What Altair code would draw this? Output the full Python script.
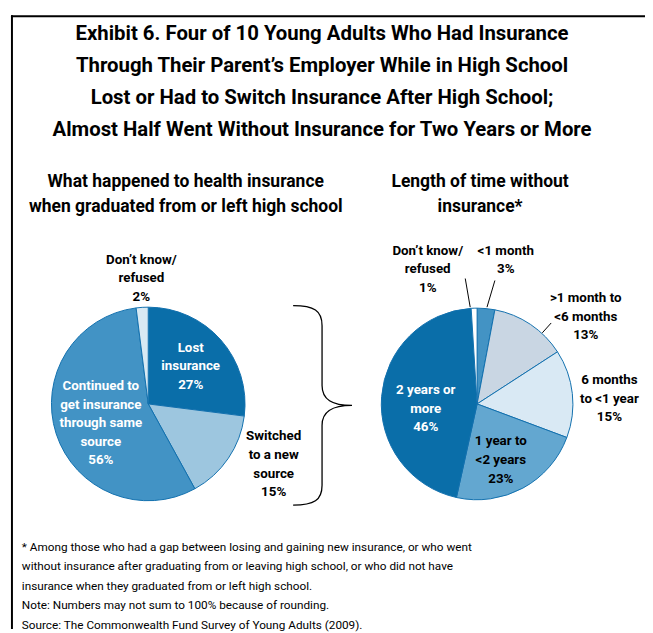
import altair as alt
import pandas as pd

# ---------------- data ----------------
title_lines = [
    "Exhibit 6. Four of 10 Young Adults Who Had Insurance",
    "Through Their Parent’s Employer While in High School",
    "Lost or Had to Switch Insurance After High School;",
    "Almost Half Went Without Insurance for Two Years or More",
]
left_subtitle = ["What happened to health insurance", "when graduated from or left high school"]
right_subtitle = ["Length of time without", "insurance*"]

left_categories = ["Lost insurance", "Switched to a new source",
                   "Continued to get insurance through same source", "Don’t know/refused"]
left_values = [27, 15, 56, 2]
left_label_lines = [["Lost", "insurance"], ["Switched", "to a new", "source"],
                    ["Continued to", "get insurance", "through same", "source"],
                    ["Don’t know/", "refused"]]

right_categories = ["<1 month", ">1 month to <6 months", "6 months to <1 year",
                    "1 year to <2 years", "2 years or more", "Don’t know/refused"]
right_values = [3, 13, 15, 23, 46, 1]
right_label_lines = [["<1 month"], [">1 month to", "<6 months"], ["6 months", "to <1 year"],
                     ["1 year to", "<2 years"], ["2 years or", "more"], ["Don’t know/", "refused"]]

footnotes = [
    "* Among those who had a gap between losing and gaining new insurance, or who went",
    "without insurance after graduating from or leaving high school, or who did not have",
    "insurance when they graduated from or left high school.",
    "Note: Numbers may not sum to 100% because of rounding.",
    "Source: The Commonwealth Fund Survey of Young Adults (2009).",
]

# ---------------- styles / layout ----------------
left_colors = ["#0a6ea9", "#9dc6df", "#4293c5", "#d8e9f3"]
right_colors = ["#4393c4", "#c9d6e3", "#d9e9f4", "#63a7d0", "#0a6ea9", "#ffffff"]
left_label_pos = [(185, 344, "white"), (269, 434, "black"), (94, 383, "white"), (135, 255, "black")]
right_label_pos = [(504, 246, "black"), (585, 294, "black"), (609, 377, "black"),
                   (499, 439, "black"), (423, 387, "white"), (425, 246, "black")]
leaders = [(463, 270, 468, 299), (493, 272, 485, 299), (550, 315, 541, 325)]

W, H = 645, 625
FONT = "Roboto, sans-serif"
EDGE = "#1170ae"

left_df = pd.DataFrame({"cat": left_categories, "val": left_values, "idx": range(len(left_values))})
right_df = pd.DataFrame({"cat": right_categories, "val": right_values, "idx": range(len(right_values))})


def pie(df, colors, cx, cy, r):
    return alt.Chart(df).mark_arc(radius=r, stroke=EDGE, strokeWidth=1).encode(
        theta=alt.Theta("val:Q", stack=True),
        order=alt.Order("idx:Q", sort="ascending"),
        color=alt.Color("cat:N", scale=alt.Scale(domain=list(df["cat"]), range=colors), legend=None),
        x=alt.value(cx), y=alt.value(cy),
    )


def label_rows(lines_list, values, pos):
    rows = []
    for lines, v, (x, y, c) in zip(lines_list, values, pos):
        rows.append({"text": "\n".join(lines + [f"{v}%"]), "x": x, "y": y, "c": c})
    return rows


labels = pd.DataFrame(label_rows(left_label_lines, left_values, left_label_pos)
                      + label_rows(right_label_lines, right_values, right_label_pos))

pie_labels = alt.Chart(labels).mark_text(
    font=FONT, fontSize=13.5, fontWeight="bold", lineBreak="\n", lineHeight=18.8,
    align="center", baseline="alphabetic",
).encode(
    x=alt.X("x:Q", scale=None, axis=None), y=alt.Y("y:Q", scale=None, axis=None),
    text="text:N", color=alt.Color("c:N", scale=None),
)

title = alt.Chart(pd.DataFrame({"t": ["\n".join(title_lines)]})).mark_text(
    font=FONT, fontSize=20.6, fontWeight="bold", lineBreak="\n", lineHeight=32.4,
    align="center", baseline="alphabetic", color="black",
).encode(x=alt.value(318), y=alt.value(28.5), text="t:N")

subs = alt.Chart(pd.DataFrame({"t": ["\n".join(left_subtitle), "\n".join(right_subtitle)],
                               "x": [180, 478], "y": [177.5, 177.5]})).mark_text(
    font=FONT, fontSize=17.7, fontWeight="bold", lineBreak="\n", lineHeight=25.5,
    align="center", baseline="alphabetic", color="black",
).encode(x=alt.X("x:Q", scale=None, axis=None), y=alt.Y("y:Q", scale=None, axis=None), text="t:N")

notes = alt.Chart(pd.DataFrame({"t": ["\n".join(footnotes)]})).mark_text(
    font=FONT, fontSize=11.9, lineBreak="\n", lineHeight=19.6,
    align="left", baseline="alphabetic", color="black",
).encode(x=alt.value(14), y=alt.value(546), text="t:N")

lead_df = pd.DataFrame(leaders, columns=["x", "y", "x2", "y2"])
leader_lines = alt.Chart(lead_df).mark_rule(color="black", strokeWidth=1).encode(
    x=alt.X("x:Q", scale=None, axis=None), y=alt.Y("y:Q", scale=None, axis=None),
    x2="x2:Q", y2="y2:Q",
)

brace_path = ("M -0.29 -1 C -0.08 -1 0 -0.95 0 -0.8 L 0 -0.2 C 0 -0.06 0.1 0 0.3 0 "
              "C 0.1 0 0 0.06 0 0.2 L 0 0.8 C 0 0.95 -0.08 1 -0.29 1")
brace = alt.Chart(pd.DataFrame({"a": [0]})).mark_point(
    shape=brace_path, size=40800, filled=False, stroke="black", strokeWidth=1.3, opacity=1,
).encode(x=alt.value(318), y=alt.value(398.5))

frame_top = alt.Chart(pd.DataFrame({"a": [0]})).mark_rule(color="black", strokeWidth=2).encode(
    x=alt.value(3), x2=alt.value(W), y=alt.value(4.5))
frame_left = alt.Chart(pd.DataFrame({"a": [0]})).mark_rule(color="black", strokeWidth=2).encode(
    x=alt.value(4), y=alt.value(3.5), y2=alt.value(H))

chart = alt.layer(
    frame_top, frame_left, title, subs,
    pie(left_df, left_colors, 142, 397, 98),
    pie(right_df, right_colors, 475, 397, 97),
    leader_lines, brace, pie_labels, notes,
).resolve_scale(
    theta="independent", color="independent"
).properties(
    width=W, height=H, padding=0, autosize=alt.AutoSizeParams(type="none"), background="white"
).configure_view(stroke=None)

chart.save("out.html", embed_options={"renderer": "svg", "actions": False})
